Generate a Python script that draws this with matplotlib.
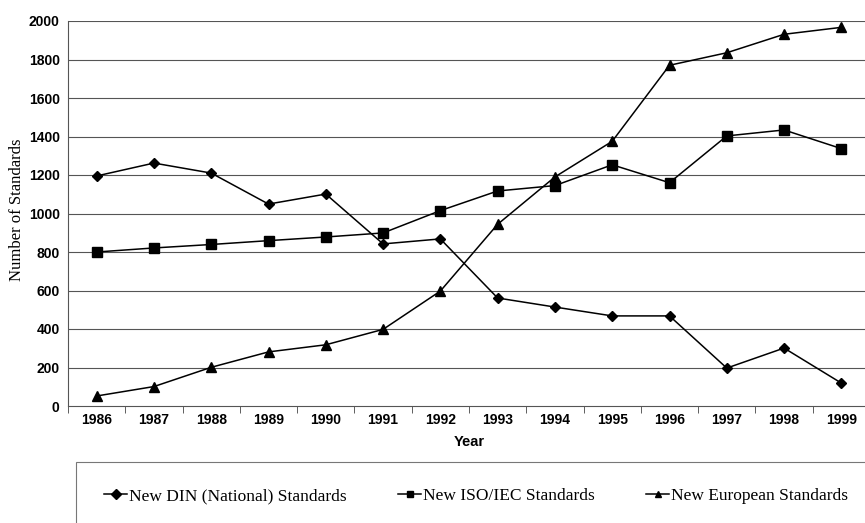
import matplotlib
matplotlib.use("Agg")
import matplotlib.pyplot as plt
from matplotlib.patches import Rectangle
import numpy as np

years = [1986, 1987, 1988, 1989, 1990, 1991, 1992, 1993, 1994, 1995, 1996, 1997, 1998, 1999]
din = [1195, 1262, 1210, 1049, 1101, 842, 868, 561, 514, 468, 468, 197, 301, 119]
iso = [800, 821, 839, 859, 878, 899, 1015, 1117, 1145, 1253, 1160, 1403, 1434, 1337]
euro = [52, 101, 201, 281, 318, 398, 597, 944, 1190, 1375, 1770, 1835, 1931, 1967]
series_names = ["New DIN (National) Standards", "New ISO/IEC Standards", "New European Standards"]
yticks = [0, 200, 400, 600, 800, 1000, 1200, 1400, 1600, 1800, 2000]

sans = ["Liberation Sans Narrow", "Liberation Sans", "DejaVu Sans"]
serif = ["Liberation Serif", "DejaVu Serif"]

W, H = 865, 523
fig = plt.figure(figsize=(W / 100, H / 100), dpi=100)
ax = fig.add_axes([68 / W, (H - 406) / H, (870 - 68) / W, 385 / H])

x = np.arange(len(years))
ax.plot(x, din, color="black", lw=1.1, marker="D", ms=5, label=series_names[0])
ax.plot(x, iso, color="black", lw=1.1, marker="s", ms=7, label=series_names[1])
ax.plot(x, euro, color="black", lw=1.1, marker="^", ms=7, label=series_names[2])

ax.set_xlim(-0.5, len(years) - 0.5)
ax.set_ylim(0, 2000)
ax.set_yticks(yticks)
ax.set_yticklabels([str(v) for v in yticks], family=sans, fontweight="bold", fontsize=10)
ax.tick_params(axis="y", length=0, pad=6)
ax.set_xticks(x)
ax.set_xticklabels([str(y) for y in years], family=sans, fontweight="bold", fontsize=10)
ax.set_xticks(np.arange(-0.5, len(years), 1), minor=True)
ax.tick_params(axis="x", which="major", length=0, pad=5)
ax.tick_params(axis="x", which="minor", length=5, color="#444444")
for y in yticks[1:]:
    ax.axhline(y, color="#555555", lw=0.8, zorder=0)
for s in ["top", "right"]:
    ax.spines[s].set_visible(False)
ax.spines["left"].set_color("#555555")
ax.spines["bottom"].set_color("#555555")

ax.set_xlabel("Year", family=sans, fontweight="bold", fontsize=10.5, labelpad=6)
fig.text(17 / W, (H - 210) / H, "Number of Standards", family=serif, fontsize=12,
         rotation=90, ha="center", va="center")

# legend box
fig.patches.append(Rectangle((76 / W, -0.05), (870 - 76) / W, (H - 462) / H + 0.05,
                             transform=fig.transFigure, fill=False,
                             edgecolor="#777777", lw=0.8))
handles, labels = ax.get_legend_handles_labels()
leg = fig.legend(handles, labels, loc="center", bbox_to_anchor=(476 / W, (H - 496) / H),
                 ncol=3, frameon=False, handlelength=1.3, handletextpad=0.1,
                 columnspacing=3.0, prop={"family": serif, "size": 12.5})
for h in leg.legend_handles:
    h.set_markersize(5)

fig.savefig("out.png", dpi=100)
